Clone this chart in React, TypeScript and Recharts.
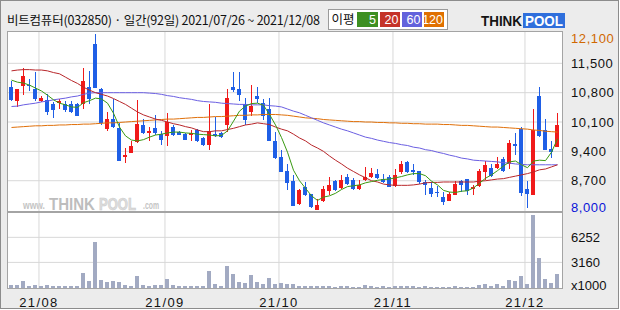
import React from 'react';
import { ComposedChart, Bar, Line, XAxis, YAxis, CartesianGrid } from 'recharts';

// daily OHLC, 2021/07/26 ~ 2021/12/08 (92 trading days)
const openP = [
  10930, 10610, 10970, 10980, 10890, 10610, 10620, 10530, 10560, 10530,
  10530, 10530, 10520, 10930, 11960, 10890, 9940, 10180, 9960, 9260,
  9360, 9620, 10030, 9840, 9960, 9810, 9770, 9980, 9860, 9810,
  9780, 9900, 9720, 9560, 9810, 9830, 10040, 10930, 10890, 10530,
  10350, 10710, 10550, 10410, 9640, 9260, 8930, 8690, 8150, 8540,
  8380, 8010, 8220, 8450, 8690, 8530, 8790, 8720, 8510, 8720,
  8790, 8860, 8740, 8780, 8570, 8910, 9150, 8960, 8930, 8670,
  8530, 8440, 8310, 8220, 8370, 8690, 8730, 8500, 8570, 8910,
  9000, 9010, 9230, 9090, 9580, 9930, 8500, 8370, 10720, 9900,
  9460, 9500,
];
const highP = [
  11070, 10890, 11380, 11130, 11290, 10720, 10770, 10580, 10640, 10590,
  10600, 10550, 11390, 11310, 12190, 10910, 10350, 10650, 10080, 9480,
  9650, 10620, 10170, 9980, 10260, 9880, 10310, 10040, 9890, 9840,
  9900, 9940, 9750, 10520, 10220, 9860, 10890, 11290, 11300, 10670,
  10980, 10930, 10650, 10670, 9860, 9430, 9100, 8840, 8510, 8670,
  8390, 8270, 8570, 8790, 8720, 8840, 8850, 8760, 8720, 9030,
  9000, 8980, 8850, 8840, 8990, 9160, 9180, 9100, 8940, 8720,
  8680, 8570, 8420, 8430, 8690, 8710, 8750, 8600, 8970, 9180,
  9090, 9270, 9270, 9670, 9830, 9990, 8690, 10410, 10940, 10170,
  9650, 10320,
];
const lowP = [
  10590, 10470, 10750, 10850, 10600, 10580, 10260, 10200, 10420, 10340,
  10320, 10250, 10410, 10530, 10910, 10040, 9890, 9960, 9180, 9120,
  9350, 9600, 9810, 9640, 9800, 9560, 9540, 9770, 9780, 9660,
  9650, 9620, 9540, 9430, 9740, 9730, 9870, 10820, 10610, 10030,
  10240, 10550, 10160, 9640, 9230, 8910, 8490, 8100, 8130, 8330,
  8050, 8000, 8200, 8370, 8460, 8510, 8600, 8490, 8490, 8690,
  8760, 8740, 8650, 8540, 8550, 8850, 8880, 8840, 8620, 8360,
  8320, 8310, 8120, 8210, 8350, 8440, 8370, 8370, 8560, 8720,
  8790, 8990, 8920, 8980, 9310, 8340, 8050, 8360, 9740, 9430,
  9240, 9500,
];
const closeP = [
  10620, 10890, 11190, 10950, 10650, 10670, 10340, 10390, 10590, 10390,
  10340, 10250, 11080, 10660, 10910, 10080, 10180, 9980, 9180, 9320,
  9540, 10050, 9840, 9880, 9830, 9680, 10100, 9800, 9800, 9680,
  9840, 9640, 9560, 9880, 9770, 9750, 10670, 10870, 10750, 10150,
  10490, 10650, 10250, 9650, 9240, 8920, 8650, 8100, 8470, 8370,
  8070, 8110, 8500, 8590, 8480, 8710, 8620, 8510, 8600, 8790,
  8880, 8760, 8670, 8560, 8840, 9100, 8910, 8910, 8660, 8590,
  8390, 8420, 8190, 8390, 8620, 8610, 8450, 8550, 8930, 9070,
  8820, 9100, 8940, 9600, 9520, 8410, 8390, 9900, 9770, 9440,
  9390, 10020,
];
// volume (x1000 shares)
const volume = [
  410, 330, 820, 210, 330, 210, 330, 210, 210, 210,
  210, 210, 1810, 820, 5640, 950, 700, 820, 700, 330,
  210, 1440, 330, 210, 330, 330, 1070, 330, 210, 210,
  210, 210, 210, 2060, 450, 210, 2680, 1690, 700, 580,
  1570, 700, 450, 1190, 450, 580, 450, 450, 210, 210,
  210, 210, 210, 210, 120, 210, 210, 120, 120, 330,
  210, 120, 210, 120, 210, 210, 210, 210, 120, 210,
  120, 120, 120, 120, 210, 120, 120, 120, 330, 450,
  210, 450, 210, 950, 820, 1440, 450, 8980, 3670, 1070,
  580, 1690,
];
// moving averages
const ma5 = [
  11100, 11050, 11030, 10980, 10910, 10840, 10740, 10630, 10550, 10510,
  10460, 10450, 10560, 10610, 10670, 10650, 10550, 10310, 9980, 9770,
  9670, 9650, 9680, 9740, 9790, 9810, 9840, 9860, 9860, 9840,
  9830, 9810, 9800, 9790, 9770, 9780, 9890, 10120, 10360, 10480,
  10540, 10550, 10500, 10280, 10030, 9730, 9380, 8950, 8700, 8520,
  8340, 8230, 8310, 8340, 8400, 8490, 8560, 8580, 8600, 8650,
  8680, 8710, 8730, 8740, 8770, 8800, 8840, 8870, 8870, 8820,
  8690, 8600, 8470, 8430, 8420, 8450, 8460, 8530, 8640, 8760,
  8840, 8940, 9050, 9150, 9170, 9080, 9010, 9170, 9190, 9180,
  9380, 9700,
];
const ma20 = [
  11320, 11340, 11350, 11350, 11340, 11340, 11320, 11280, 11250, 11170,
  11090, 11020, 10930, 10860, 10800, 10760, 10720, 10660, 10590, 10520,
  10430, 10340, 10270, 10220, 10170, 10140, 10100, 10060, 10030, 9990,
  9960, 9910, 9870, 9870, 9890, 9890, 9920, 9950, 9990, 10030,
  10050, 10080, 10060, 10040, 9980, 9930, 9890, 9810, 9720, 9650,
  9550, 9480, 9400, 9290, 9190, 9100, 9000, 8920, 8840, 8770,
  8700, 8670, 8620, 8600, 8590, 8590, 8590, 8600, 8620, 8650,
  8660, 8660, 8670, 8670, 8670, 8670, 8670, 8670, 8690, 8700,
  8720, 8740, 8750, 8780, 8810, 8840, 8870, 8910, 8960, 8980,
  9030, 9080,
];
const ma60 = [
  10470, 10480, 10510, 10530, 10550, 10580, 10600, 10630, 10650, 10670,
  10700, 10720, 10760, 10790, 10800, 10800, 10800, 10800, 10800, 10800,
  10800, 10800, 10800, 10790, 10780, 10760, 10730, 10710, 10680, 10660,
  10640, 10610, 10590, 10580, 10570, 10550, 10540, 10530, 10520, 10520,
  10510, 10510, 10510, 10490, 10480, 10460, 10410, 10360, 10320, 10260,
  10200, 10140, 10080, 10030, 9980, 9930, 9890, 9840, 9790, 9740,
  9710, 9670, 9640, 9610, 9590, 9560, 9540, 9500, 9480, 9440,
  9420, 9380, 9350, 9310, 9280, 9240, 9220, 9190, 9180, 9170,
  9160, 9150, 9130, 9120, 9100, 9090, 9080, 9080, 9080, 9080,
  9080, 9080,
];
const ma120 = [
  9970, 9980, 9990, 10000, 10010, 10010, 10020, 10020, 10030, 10030,
  10040, 10040, 10050, 10050, 10060, 10070, 10080, 10080, 10090, 10100,
  10110, 10120, 10130, 10140, 10150, 10160, 10170, 10170, 10180, 10190,
  10200, 10210, 10210, 10220, 10230, 10230, 10240, 10250, 10260, 10260,
  10270, 10270, 10280, 10280, 10280, 10270, 10260, 10240, 10220, 10200,
  10190, 10180, 10160, 10150, 10140, 10130, 10120, 10110, 10110, 10100,
  10100, 10090, 10090, 10080, 10080, 10070, 10070, 10060, 10060, 10050,
  10050, 10050, 10040, 10040, 10030, 10020, 10020, 10010, 10000, 9990,
  9980, 9980, 9970, 9960, 9950, 9940, 9930, 9910, 9900, 9880,
  9870, 9860,
];

// index of the first trading day of each month, and its label
const monthStart = [5, 26, 45, 64, 86];
const monthLabels = ['21/08', '21/09', '21/10', '21/11', '21/12'];
const priceTicks = [8000, 8700, 9400, 10100, 10800, 11500, 12100];
const priceGrid = [8700, 9400, 10100, 10800, 11500];
const volTicks = [0, 3160, 6252];
const volGrid = [3160, 6252];

const UP = '#f01a1a';
const DOWN = '#1f5fe6';
const VOLC = '#a2aac2';
const GRID = '#d8d8d8';
const AXFONT = "'Liberation Sans Narrow','Liberation Sans',Arial,sans-serif";
const KFONT = "'Noto Sans CJK KR','Noto Sans',sans-serif";
const LFONT = "'Liberation Sans',Arial,sans-serif";

const data = openP.map((o, i) => ({
  i,
  open: o,
  high: highP[i],
  low: lowP[i],
  close: closeP[i],
  range: [lowP[i], highP[i]],
  vol: volume[i],
  ma5: ma5[i],
  ma20: ma20[i],
  ma60: ma60[i],
  ma120: ma120[i],
}));

const gridX = monthStart.map((m) => m - 0.42);
const xDomain: [number, number] = [-0.75, 91.75];

const Candle = (props: any) => {
  const { x, y, width, height, payload } = props;
  if (x == null || y == null || !payload) return null;
  const { open, close, high, low } = payload;
  const k = high === low ? 0 : height / (high - low);
  const yOf = (v: number) => y + (high - v) * k;
  const color = close >= open ? UP : DOWN;
  const cx = x + width / 2;
  const left = Math.floor(cx - 2 + 0.001);
  const top = Math.round(yOf(Math.max(open, close)));
  const bot = Math.round(yOf(Math.min(open, close)));
  const hy = Math.round(y);
  const ly = Math.round(y + height);
  return (
    <g shapeRendering="crispEdges">
      <rect x={left + 2} y={hy} width={1} height={Math.max(1, ly - hy)} fill={color} />
      <rect x={left} y={top} width={4} height={Math.max(1, bot - top)} fill={color} />
    </g>
  );
};

const VolBar = (props: any) => {
  const { x, y, width, height } = props;
  if (x == null || y == null) return null;
  const cx = x + width / 2;
  const left = Math.floor(cx - 2 + 0.001);
  const top = Math.round(y);
  const bot = Math.round(y + height);
  return <rect x={left} y={top} width={4} height={Math.max(1, bot - top)} fill={VOLC} shapeRendering="crispEdges" />;
};

const PriceTick = (props: any) => {
  const { x, y, payload } = props;
  const v = payload.value as number;
  const color = v === priceTicks[priceTicks.length - 1] ? '#d06800' : v === priceTicks[0] ? '#0a14d8' : '#111';
  const dy = v === priceTicks[0] ? -3 : 0;
  return (
    <text x={x} y={y + dy} dy="0.36em" fill={color} fontSize={13} fontFamily={AXFONT} letterSpacing={0.6} textAnchor="start">
      {v.toLocaleString('en-US')}
    </text>
  );
};

const VolTick = (props: any) => {
  const { x, y, payload } = props;
  const v = payload.value as number;
  const label = v === 0 ? 'x1000' : String(v);
  const dy = v === 0 ? -3 : 0;
  return (
    <text x={x} y={y + dy} dy="0.36em" fill="#111" fontSize={13} fontFamily={AXFONT} textAnchor="start">
      {label}
    </text>
  );
};

const DateTick = (props: any) => {
  const { x, y, payload } = props;
  const idx = gridX.indexOf(payload.value);
  return (
    <text x={x} y={y} dy="0.36em" fill="#111" fontSize={13} fontFamily={AXFONT} letterSpacing={1.4} textAnchor="middle">
      {idx >= 0 ? monthLabels[idx] : ''}
    </text>
  );
};

export default function App() {
  return (
    <div style={{ position: 'absolute', left: 0, top: 0, width: 620, height: 310, overflow: 'hidden' }}>
      {/* background layer */}
      <svg width={620} height={310} style={{ position: 'absolute', left: 0, top: 0 }}>
        <rect x={0} y={0} width={620} height={310} fill="#ffffff" />
        <rect x={0.5} y={0.5} width={618} height={308} fill="#ececec" stroke="#8c8c8c" />
        <rect x={7} y={31} width={555} height={180} fill="#ffffff" />
        <rect x={7} y={212} width={555} height={76} fill="#ffffff" />
        {/* header */}
        <text x={7} y={20} dy="0.36em" fontSize={12.5} fontFamily={KFONT} fill="#111" textLength={313} lengthAdjust="spacing">
          비트컴퓨터(032850) · 일간(92일) 2021/07/26 ~ 2021/12/08
        </text>
        <rect x={328.5} y={9.5} width={119} height={20} fill="#ffffff" stroke="#9a9a9a" />
        <text x={343} y={19.5} dy="0.36em" fontSize={12.5} fontFamily={KFONT} fill="#111" textAnchor="middle">
          이평
        </text>
        <rect x={357} y={12} width={21} height={15} fill="#3d8f22" />
        <text x={376} y={19.5} dy="0.36em" fontSize={12.5} fontFamily={AXFONT} fill="#fff" textAnchor="end">5</text>
        <rect x={380} y={12} width={20} height={15} fill="#c43328" />
        <text x={398.5} y={19.5} dy="0.36em" fontSize={12.5} fontFamily={AXFONT} fill="#fff" textAnchor="end">20</text>
        <rect x={402} y={12} width={20} height={15} fill="#6262dc" />
        <text x={420.5} y={19.5} dy="0.36em" fontSize={12.5} fontFamily={AXFONT} fill="#fff" textAnchor="end">60</text>
        <rect x={424} y={12} width={20} height={15} fill="#e07000" />
        <text x={443} y={19.5} dy="0.36em" fontSize={12.5} fontFamily={AXFONT} fill="#fff" textAnchor="end">120</text>
        {/* logo */}
        <text x={481} y={26} fontSize={15} fontWeight={900} fontFamily={LFONT} fill="#141414" textLength={41} lengthAdjust="spacingAndGlyphs">
          THINK
        </text>
        <rect x={523} y={13} width={42} height={15} fill="#2f6fdc" />
        <text x={525} y={26} fontSize={15} fontWeight={900} fontFamily={LFONT} fill="#ffffff" textLength={38} lengthAdjust="spacingAndGlyphs">
          POOL
        </text>
        {/* watermark */}
        <text x={23} y={209} fontSize={11} fontWeight={700} fontFamily={LFONT} fill="#c4c4c4" textLength={22} lengthAdjust="spacingAndGlyphs">www.</text>
        <text x={49} y={210} fontSize={17} fontWeight={900} fontFamily={LFONT} fill="#bdbdbd" textLength={46} lengthAdjust="spacingAndGlyphs">THINK</text>
        <text x={99} y={210} fontSize={16} fontWeight={900} fontFamily={LFONT} fill="#dedede" stroke="#cacaca" strokeWidth={0.6} textLength={37} lengthAdjust="spacingAndGlyphs">POOL</text>
        <text x={143} y={209} fontSize={11} fontWeight={700} fontFamily={LFONT} fill="#c4c4c4" textLength={16} lengthAdjust="spacingAndGlyphs">.com</text>
      </svg>

      {/* price pane */}
      <div style={{ position: 'absolute', left: 0, top: 0 }}>
        <ComposedChart width={620} height={217} data={data} margin={{ top: 31, right: 0, left: 7, bottom: 6 }}>
          <CartesianGrid stroke={GRID} horizontalValues={priceGrid} verticalValues={gridX} />
          <XAxis type="number" dataKey="i" domain={xDomain} allowDataOverflow hide ticks={gridX} />
          <YAxis
            orientation="right"
            width={58}
            domain={[7978, 12271]}
            allowDataOverflow
            ticks={priceTicks}
            interval={0}
            axisLine={false}
            tickLine={false}
            tickSize={0}
            tickMargin={9}
            tick={<PriceTick />}
          />
          <Line dataKey="ma120" stroke="#e0700a" strokeWidth={1} dot={false} activeDot={false} isAnimationActive={false} />
          <Line dataKey="ma60" stroke="#6b5fe2" strokeWidth={1} dot={false} activeDot={false} isAnimationActive={false} />
          <Line dataKey="ma20" stroke="#b8262a" strokeWidth={1} dot={false} activeDot={false} isAnimationActive={false} />
          <Line dataKey="ma5" stroke="#3a9a12" strokeWidth={1} dot={false} activeDot={false} isAnimationActive={false} />
          <Bar dataKey="range" barSize={4} shape={<Candle />} isAnimationActive={false} />
        </ComposedChart>
      </div>

      {/* volume pane */}
      <div style={{ position: 'absolute', left: 0, top: 212 }}>
        <ComposedChart width={620} height={98} data={data} margin={{ top: 0, right: 0, left: 7, bottom: 0 }}>
          <CartesianGrid stroke={GRID} horizontalValues={volGrid} verticalValues={gridX} />
          <XAxis
            type="number"
            dataKey="i"
            domain={xDomain}
            allowDataOverflow
            ticks={gridX}
            interval={0}
            height={22}
            axisLine={false}
            tickLine={false}
            tickSize={0}
            tickMargin={14}
            tick={<DateTick />}
          />
          <YAxis
            orientation="right"
            width={58}
            domain={[0, 9380]}
            allowDataOverflow
            ticks={volTicks}
            interval={0}
            axisLine={false}
            tickLine={false}
            tickSize={0}
            tickMargin={9}
            tick={<VolTick />}
          />
          <Bar dataKey="vol" barSize={4} shape={<VolBar />} isAnimationActive={false} />
        </ComposedChart>
      </div>

      {/* pane borders */}
      <svg width={620} height={310} style={{ position: 'absolute', left: 0, top: 0, pointerEvents: 'none' }}>
        <rect x={7.5} y={31.5} width={555} height={180} fill="none" stroke="#a4a4a4" />
        <rect x={7.5} y={212.5} width={555} height={76} fill="none" stroke="#a4a4a4" />
      </svg>
    </div>
  );
}
